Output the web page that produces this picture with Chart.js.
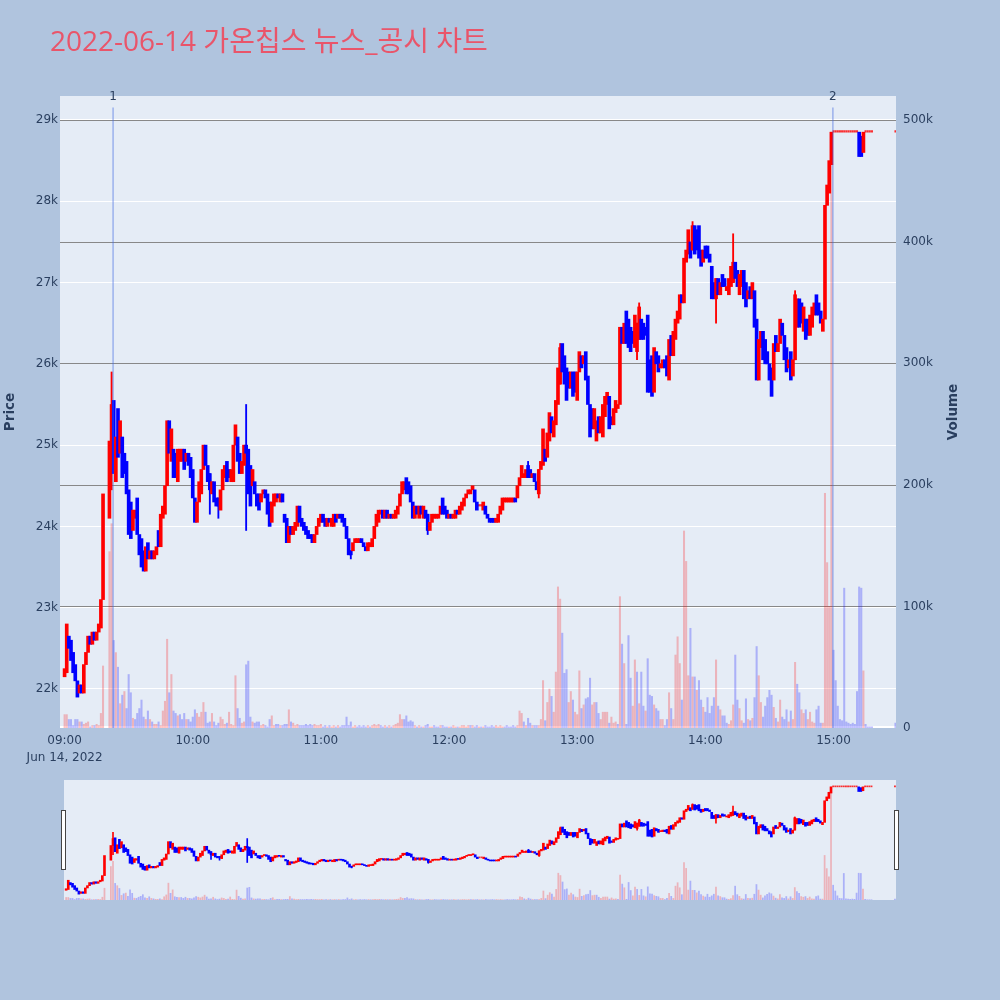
<!DOCTYPE html>
<html lang="ko">
<head>
<meta charset="utf-8">
<title>2022-06-14 가온칩스 뉴스_공시 차트</title>
<script src="https://cdn.jsdelivr.net/npm/chart.js@4.4.1/dist/chart.umd.min.js"></script>
<style>
  html, body { margin:0; padding:0; background:#b0c4de; }
  #wrap { position:relative; width:1000px; height:1000px; overflow:hidden; background:#b0c4de; }
  #mainChart { position:absolute; left:0; top:0; }
  #sliderChart { position:absolute; left:0; top:780px; }
</style>
</head>
<body>
<div id="wrap">
  <canvas id="mainChart" width="1000" height="776"></canvas>
  <canvas id="sliderChart" width="1000" height="120"></canvas>
</div>
<script>
// ---------------- data ----------------
const chartTitle = '2022-06-14 가온칩스 뉴스_공시 차트';
const priceAxisTitle = 'Price';
const volumeAxisTitle = 'Volume';

// one candle per minute, index 0 = 09:00
const timeTicks = [0, 60, 120, 180, 240, 300, 360];
const timeTickLabels = ['09:00', '10:00', '11:00', '12:00', '13:00', '14:00', '15:00'];
const dateLabel = 'Jun 14, 2022';

const priceTicks = [22000, 23000, 24000, 25000, 26000, 27000, 28000, 29000];
const priceTickLabels = ['22k', '23k', '24k', '25k', '26k', '27k', '28k', '29k'];
// volume in thousands of shares
const volumeTicks = [0, 100, 200, 300, 400, 500];
const volumeTickLabels = ['0', '100k', '200k', '300k', '400k', '500k'];

const newsMinutes = [22.7, 359.7];
const newsLabels = ['1', '2'];

const opens = [
22150,22200,22650,22600,22450,22300,22100,21950,22050,21950,
22300,22450,22650,22550,22700,22600,22700,22750,23100,null,
null,24100,25050,25550,24550,25450,24900,25100,24900,24800,
24450,24300,23950,24100,24350,23900,23850,23700,23450,23800,
23600,23700,23600,23650,23950,23750,24100,24150,24500,25300,
24800,24950,24900,24550,24800,24800,24950,24800,24900,24850,
24700,24350,24050,24300,24400,24700,25000,24750,24650,24400,
24550,24350,24350,24200,24450,24600,24800,24700,24550,24550,
25000,25100,24900,24650,24750,25000,24950,24750,24500,24550,
24400,24400,24300,24400,24450,24400,24300,24050,24250,24300,
24400,24300,24400,24150,24100,23800,24000,23900,23950,24000,
24250,24100,24050,24000,23950,23900,23900,23800,23900,24000,
24050,24150,24100,24000,24100,24000,24000,24150,24100,24150,
24150,24100,24000,23850,23700,23700,23800,23800,23800,23850,
23800,23750,23700,23750,23750,23850,24000,24050,24150,24200,
24100,24200,24100,24150,24100,24100,24150,24250,24400,24450,
24600,24550,24500,24300,24100,24250,24100,24250,24100,24200,
24150,23950,24050,24100,24100,24100,24150,24350,24250,24200,
24100,24150,24100,24100,24200,24150,24200,24250,24350,24400,
24400,24450,24450,24300,24250,24250,24200,24250,24150,24100,
24100,24100,24050,24050,24150,24200,24300,24300,24300,24300,
24300,24350,24350,24500,24600,24600,24600,24750,24700,24600,
24650,24550,24400,24700,24750,24950,24850,25050,25350,25100,
25250,25500,25750,26250,26100,25950,25900,25700,25900,25900,
25550,25900,26100,26000,26150,25850,25500,25450,25200,25050,
25350,25150,25100,25350,25500,25600,25350,25250,25400,25450,
25500,26450,26250,26650,26550,26450,26400,26200,26150,26300,
26550,26500,26450,26600,26050,26100,25650,26150,26100,25950,
25950,26050,26100,25800,26350,26100,26300,26500,26550,26850,
26750,27250,27350,27500,27400,27700,27650,27700,27400,27250,
27450,27450,27350,27200,27000,26800,27050,26850,27100,27050,
26900,26850,26950,27000,27250,27150,26850,26950,27150,27000,
26800,26950,26800,26900,26550,25800,26200,26400,26300,26150,
26000,25950,25800,26350,26150,26250,26500,26350,26200,25950,
26150,25850,26050,26450,26800,26750,26400,26550,26550,26350,
26450,26600,26850,26750,26650,26400,26550,27950,28100,28450,
28850,28850,28850,28850,28850,28850,28850,28850,28850,28850,
28850,28850,28850,28800,28600,28850,28850,28850,28850,null,
null,null,null,null,null,null,null,null,null,28850
];

const closes = [
22250,22800,22500,22350,22200,22100,21900,22050,21950,22300,
22450,22650,22550,22700,22600,22700,22800,23100,24400,null,
null,25050,25500,24650,25100,24850,25300,24600,24650,24400,
23900,23850,24200,24200,23900,23650,23500,23450,23750,23600,
23700,23600,23700,23750,23750,24150,24250,24500,25300,24900,
25200,24600,24600,24950,24950,24950,24700,24900,24750,24600,
24350,24050,24300,24550,24700,25000,24750,24550,24450,24550,
24300,24250,24250,24450,24700,24750,24550,24600,24700,25000,
25250,24800,24650,24800,25000,24900,24400,24250,24700,24400,
24250,24200,24400,24450,24350,24150,24000,24300,24400,24400,
24350,24400,24300,24050,23800,24000,23900,24000,24050,24250,
24050,24000,23950,23900,23850,23850,23800,23900,24000,24100,
24150,24050,24000,24100,24050,24100,24150,24050,24150,24100,
24050,24000,23850,23650,23650,23800,23850,23850,23850,23800,
23750,23700,23800,23800,23850,24000,24150,24200,24200,24100,
24200,24100,24150,24100,24150,24200,24250,24400,24550,24550,
24400,24400,24300,24100,24250,24150,24250,24150,24250,24100,
23950,24050,24150,24150,24150,24150,24250,24150,24150,24100,
24150,24100,24150,24200,24150,24250,24300,24350,24400,24450,
24450,24500,24300,24200,24250,24250,24300,24150,24100,24050,
24050,24050,24100,24150,24250,24350,24350,24350,24350,24350,
24350,24300,24500,24600,24750,24650,24700,24600,24600,24650,
24550,24450,24700,24800,25200,24800,25150,25400,25150,25300,
25550,25950,26200,25900,25750,25550,25700,25900,25600,25650,
25900,26150,25950,26100,25800,25500,25100,25200,25450,25300,
25150,25350,25500,25600,25650,25200,25250,25450,25550,25500,
26450,26250,26500,26250,26200,26150,26250,26600,26500,26700,
26300,26300,26350,25650,25650,25600,26200,26000,25900,26000,
26050,25950,25850,26300,26100,26400,26550,26650,26850,26750,
27300,27400,27650,27300,27700,27350,27400,27300,27200,27400,
27300,27300,27250,26800,26800,27050,26850,27000,26950,26950,
26950,27050,27200,27250,27050,26950,27100,27150,26800,26700,
26900,26800,27000,26450,25800,26300,26400,26050,26000,26000,
25800,25600,26250,26150,26250,26550,26350,26050,25900,26050,
25800,26050,26850,26800,26450,26500,26700,26300,26350,26600,
26700,26750,26600,26600,26500,26550,27950,28200,28500,28850,
28850,28850,28850,28850,28850,28850,28850,28850,28850,28850,
28850,28850,28550,28550,28850,28850,28850,28850,28850,null,
null,null,null,null,null,null,null,null,null,28850
];

// wicks that reach beyond the candle body
const wickMinutes = [22, 68, 72, 85, 134, 170, 217, 222, 232, 268, 269, 294, 305, 313, 342];
const wickLows  = [24450, 24150, 24100, 23950, 23600, 23900, 24600, 24350, 25750, 26050, 26300, 27400, 26500, 27000, 26050];
const wickHighs = [25900, 24650, 24350, 25500, 23700, 24150, 24800, 24700, 26250, 26500, 26750, 27750, 27050, 27600, 26900];

// thousands of shares per minute
const volumes = [
11,11,7,7,2,7,7,5,5,3,
4,5,1,2,2,3,2,12,51,null,
null,145,168,72,62,50,20,27,30,16,
44,29,8,7,12,16,23,9,7,14,
7,5,3,3,5,2,14,22,73,29,
44,14,12,10,11,7,12,7,7,5,
9,15,12,9,13,21,13,4,5,12,
5,2,4,9,7,3,4,13,3,2,
43,16,8,4,5,52,55,9,5,4,
5,5,2,3,2,1,7,10,2,3,
3,2,2,3,3,15,5,4,2,3,
2,2,2,3,2,3,2,3,2,2,
3,1,2,1,2,1,2,1,2,1,
2,2,9,2,5,1,2,1,2,1,
2,1,2,1,2,3,2,3,2,1,
2,1,2,1,2,3,4,11,7,7,
10,5,6,5,2,1,2,1,1,2,
3,1,1,2,1,1,2,2,1,1,
1,1,2,1,1,1,2,2,1,2,
2,2,1,2,1,1,1,2,1,1,
2,1,2,1,2,1,1,2,1,1,
2,1,2,14,12,5,2,8,4,2,
2,2,2,7,39,6,21,32,26,13,
46,116,106,78,45,48,21,30,23,13,
11,47,16,19,24,25,41,19,21,21,
12,7,13,13,13,4,9,4,5,3,
108,69,53,3,76,41,18,56,46,20,
46,18,14,57,27,26,19,16,14,7,
7,2,7,29,16,7,60,75,53,23,
162,137,43,82,42,42,31,39,23,17,
13,25,12,18,25,56,18,15,10,10,
4,3,6,19,60,23,16,6,4,24,
7,6,8,25,67,43,21,9,18,25,
31,27,17,8,5,23,9,7,15,5,
14,7,54,36,29,15,12,15,7,13,
5,4,15,18,4,4,193,136,100,490,
64,39,18,7,6,115,5,4,3,4,
3,30,116,115,47,3,1,1,1,null,
null,null,null,null,null,null,null,null,null,4
];

// ---------------- styles ----------------
const TITLE_FONT = '"Open Sans", "Noto Sans CJK KR", sans-serif';
const FONT = '"DejaVu Sans", Verdana, sans-serif';
const TEXT = '#2a3f5f';
const RED = '#ff0000', BLUE = '#0000ff';
const VOL_RED = 'rgba(255,0,0,0.24)', VOL_BLUE = 'rgba(0,0,255,0.25)';
const PLOT_BG = '#e5ecf6';

// ---------------- build datasets ----------------
const bodyData = [], bodyColors = [], flatData = [], volData = [], volColors = [];
let prevClose = null;
for (let i = 0; i < closes.length; i++) {
  if (closes[i] === null) continue;
  const o = opens[i], c = closes[i];
  if (o === c) {
    flatData.push({x: i, y: [o, c]});
  } else {
    bodyData.push({x: i, y: [o, c]});
    bodyColors.push(c > o ? RED : BLUE);
  }
  const ref = prevClose === null ? o : prevClose;
  volData.push({x: i, y: volumes[i]});
  volColors.push(c > ref ? VOL_RED : VOL_BLUE);
  prevClose = c;
}
const wickData = wickMinutes.map((m, k) => ({x: m, y: [wickLows[k], wickHighs[k]]}));
const wickColors = wickMinutes.map(m => closes[m] >= opens[m] ? RED : BLUE);

function makeDatasets(bodyW, wickW, volW, flatW, minLen) {
  return [
    {label: 'Volume', data: volData.map(d => ({x: d.x, y: d.y})), yAxisID: 'yVol',
     backgroundColor: volColors.slice(), barThickness: volW, grouped: false, order: 4, borderWidth: 0},
    {label: 'Wick', data: wickData.map(d => ({x: d.x, y: d.y.slice()})), yAxisID: 'y',
     backgroundColor: wickColors.slice(), barThickness: wickW, grouped: false, order: 3, borderWidth: 0},
    {label: 'Flat', data: flatData.map(d => ({x: d.x, y: d.y.slice()})), yAxisID: 'y',
     backgroundColor: 'rgba(255,0,0,0.8)', barThickness: flatW, minBarLength: minLen, grouped: false, order: 2, borderWidth: 0},
    {label: 'Price', data: bodyData.map(d => ({x: d.x, y: d.y.slice()})), yAxisID: 'y',
     backgroundColor: bodyColors.slice(), barThickness: bodyW, minBarLength: minLen, grouped: false, order: 1, borderWidth: 0}
  ];
}

// ---------------- plugins ----------------
const mainDecor = {
  id: 'mainDecor',
  beforeDraw(chart) {
    const {ctx, chartArea: a} = chart;
    ctx.save();
    ctx.fillStyle = PLOT_BG;
    ctx.fillRect(a.left, a.top, a.right - a.left, a.bottom - a.top);
    ctx.restore();
  },
  beforeDatasetsDraw(chart) {
    const {ctx, chartArea: a, scales} = chart;
    const yv = scales.yVol;
    ctx.save();
    ctx.strokeStyle = 'rgb(136,136,136)';
    ctx.lineWidth = 1;
    volumeTicks.forEach(v => {
      if (v === 0) return;
      const y = Math.round(yv.getPixelForValue(v)) + 0.5;
      ctx.beginPath(); ctx.moveTo(a.left, y); ctx.lineTo(a.right, y); ctx.stroke();
    });
    ctx.strokeStyle = '#ffffff';
    ctx.lineWidth = 2;
    const y0 = yv.getPixelForValue(0) - 1;
    ctx.beginPath(); ctx.moveTo(a.left, y0); ctx.lineTo(a.right, y0); ctx.stroke();
    ctx.restore();
  },
  afterDatasetsDraw(chart) {
    const {ctx, chartArea: a, scales} = chart;
    ctx.save();
    ctx.strokeStyle = 'rgba(65,105,225,0.45)';
    ctx.lineWidth = 1.5;
    newsMinutes.forEach(m => {
      const x = scales.x.getPixelForValue(m);
      ctx.beginPath(); ctx.moveTo(x, a.top + 11.5); ctx.lineTo(x, a.bottom); ctx.stroke();
    });
    ctx.restore();
  },
  afterDraw(chart) {
    const {ctx, chartArea: a, scales} = chart;
    ctx.save();
    // title
    ctx.fillStyle = '#e9556a';
    ctx.textBaseline = 'alphabetic';
    ctx.textAlign = 'left';
    ctx.font = '28px ' + TITLE_FONT;
    ctx.fillText(chartTitle, 50, 50.5);
    // news labels
    ctx.fillStyle = TEXT;
    ctx.font = '12px ' + FONT;
    ctx.textAlign = 'center';
    ctx.textBaseline = 'middle';
    newsMinutes.forEach((m, k) => {
      ctx.fillText(newsLabels[k], scales.x.getPixelForValue(m), a.top + 1);
    });
    // axis titles
    ctx.font = 'bold 13.5px ' + FONT;
    ctx.translate(10, (a.top + a.bottom) / 2);
    ctx.rotate(-Math.PI / 2);
    ctx.fillText(priceAxisTitle, 0, 0);
    ctx.setTransform(1, 0, 0, 1, 0, 0);
    ctx.translate(953, (a.top + a.bottom) / 2);
    ctx.rotate(-Math.PI / 2);
    ctx.fillText(volumeAxisTitle, 0, 0);
    ctx.restore();
  }
};

const sliderDecor = {
  id: 'sliderDecor',
  beforeDraw(chart) {
    const {ctx, chartArea: a} = chart;
    ctx.save();
    ctx.fillStyle = PLOT_BG;
    ctx.fillRect(a.left, a.top, a.right - a.left, a.bottom - a.top);
    ctx.restore();
  },
  afterDraw(chart) {
    const {ctx, chartArea: a} = chart;
    ctx.save();
    ctx.fillStyle = '#ffffff';
    ctx.strokeStyle = '#444444';
    ctx.lineWidth = 1;
    const hy = a.top + 30.5, hh = 59;
    [a.left - 2.5, a.right - 1.5].forEach(x => {
      ctx.fillRect(x, hy, 4, hh);
      ctx.strokeRect(x, hy, 4, hh);
    });
    ctx.restore();
  }
};

Chart.defaults.font.family = FONT;
Chart.defaults.font.size = 12;
Chart.defaults.color = TEXT;

new Chart(document.getElementById('mainChart'), {
  type: 'bar',
  data: { datasets: makeDatasets(3, 1.2, 1.4, 1.4, 1.6) },
  options: {
    responsive: false,
    animation: false,
    events: [],
    layout: { padding: { top: 96, left: 0, right: 0, bottom: 0 } },
    plugins: { legend: { display: false }, tooltip: { enabled: false }, title: { display: false } },
    scales: {
      x: {
        type: 'linear', min: -2.15, max: 389.25, offset: false,
        grid: { display: false, drawTicks: false }, border: { display: false },
        afterBuildTicks: s => { s.ticks = timeTicks.map(v => ({ value: v })); },
        afterFit: s => { s.height = 48; },
        ticks: {
          padding: 5, maxRotation: 0, autoSkip: false, color: TEXT,
          font: { size: 12, lineHeight: 1.36 },
          callback: v => {
            const k = timeTicks.indexOf(v);
            return k === 0 ? [timeTickLabels[0], dateLabel] : timeTickLabels[k];
          }
        }
      },
      y: {
        type: 'linear', position: 'left', min: 21520, max: 29295,
        grid: { color: '#ffffff', lineWidth: 1, drawTicks: false }, border: { display: false },
        afterBuildTicks: s => { s.ticks = priceTicks.map(v => ({ value: v })); },
        afterFit: s => { s.width = 60; },
        ticks: { padding: 2, color: TEXT, font: { size: 12 },
          callback: v => priceTickLabels[priceTicks.indexOf(v)] }
      },
      yVol: {
        type: 'linear', position: 'right', min: 0, max: 519.7,
        grid: { display: false, drawTicks: false }, border: { display: false },
        afterBuildTicks: s => { s.ticks = volumeTicks.map(v => ({ value: v })); },
        afterFit: s => { s.width = 104; },
        ticks: { padding: 7, color: TEXT, font: { size: 12 },
          callback: v => volumeTickLabels[volumeTicks.indexOf(v)] }
      }
    }
  },
  plugins: [mainDecor]
});

new Chart(document.getElementById('sliderChart'), {
  type: 'bar',
  data: { datasets: makeDatasets(2, 1, 1.1, 1.2, 1) },
  options: {
    responsive: false,
    animation: false,
    events: [],
    layout: { padding: { left: 64, right: 104, top: 0, bottom: 0 } },
    plugins: { legend: { display: false }, tooltip: { enabled: false } },
    scales: {
      x: { type: 'linear', min: -1, max: 389.5, offset: false, display: false },
      y: { type: 'linear', min: 21520, max: 29295, display: false },
      yVol: { type: 'linear', position: 'right', min: 0, max: 519.7, display: false }
    }
  },
  plugins: [sliderDecor]
});
</script>
</body>
</html>
